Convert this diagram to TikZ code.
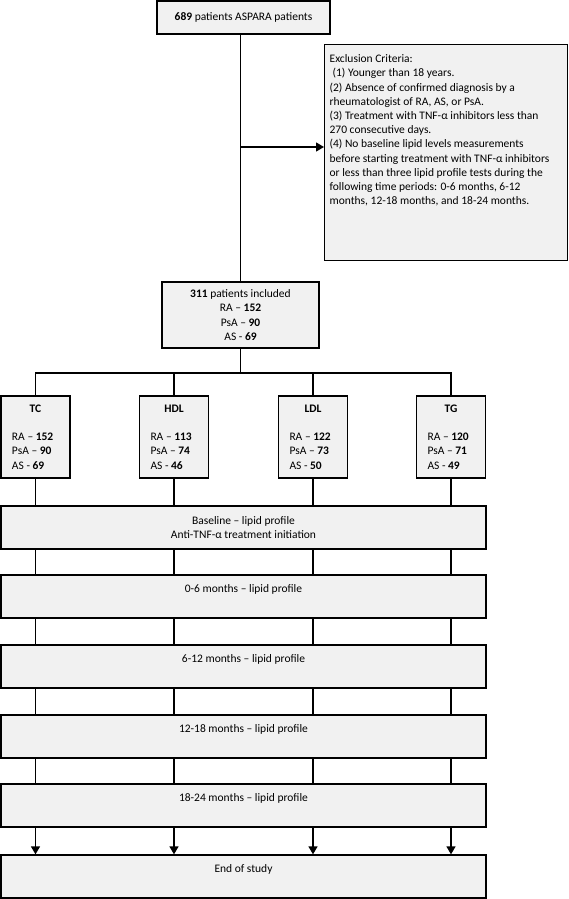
\documentclass[tikz,border=0pt]{standalone}
\usepackage{fontspec}
\setmainfont{Carlito}
\usetikzlibrary{arrows.meta}
\definecolor{boxgrey}{RGB}{241,241,241}

\begin{document}
\begin{tikzpicture}[x=1pt,y=-1pt,
  every node/.style={font=\fontsize{11.5}{14.2}\selectfont},
  box/.style={draw, line width=1.3pt, fill=boxgrey, inner sep=0pt},
  grp/.style={box, minimum width=69pt, minimum height=82pt, text width=47pt, align=flush left},
  stage/.style={box, minimum width=485pt, text height=13pt, text depth=22pt, inner ysep=4pt},
  link/.style={line width=1.3pt},
  tip/.style={link, -{Triangle[width=9pt,length=8pt]}}]
\useasboundingbox (0,0) rectangle (568,899);

% top part
\node[box, minimum width=173pt, minimum height=33pt] (total) at (243.5,17.5) {\textbf{689} patients ASPARA patients};
\node[box, anchor=north west, inner xsep=5pt, inner ysep=10pt] (excl) at (324,44) {\parbox[c][196pt][t]{233pt}{\raggedright
Exclusion Criteria:\\
\hspace*{3pt}(1) Younger than 18 years.\\
(2) Absence of confirmed diagnosis by a\\
rheumatologist of RA, AS, or PsA.\\
(3) Treatment with TNF-α inhibitors less than\\
270 consecutive days.\\
(4) No baseline lipid levels measurements\\
before starting treatment with TNF-α inhibitors\\
or less than three lipid profile tests during the\\
following time periods: 0-6 months, 6-12\\
months, 12-18 months, and 18-24 months.}};
\node[box, minimum width=157pt, minimum height=66pt, align=center] (incl) at (240.5,315) {\textbf{311} patients included\\RA – \textbf{152}\\PsA – \textbf{90}\\AS - \textbf{69}};

\draw[link] (incl.north |- total.south) -- (incl.north);
\coordinate (split) at (incl.north |- 0,147);
\draw[tip] (split) -- (split -| excl.west);

% lipid groups
\node[grp] (tc) at (35.5,437) {\centerline{\textbf{TC}}\vskip14.2pt RA – \textbf{152}\\PsA – \textbf{90}\\AS - \textbf{69}};
\node[grp] (hdl) at (174,437) {\centerline{\textbf{HDL}}\vskip14.2pt RA – \textbf{113}\\PsA – \textbf{74}\\AS - \textbf{46}};
\node[grp] (ldl) at (313,437) {\centerline{\textbf{LDL}}\vskip14.2pt RA – \textbf{122}\\PsA – \textbf{73}\\AS - \textbf{50}};
\node[grp] (tg) at (451,437) {\centerline{\textbf{TG}}\vskip14.2pt RA – \textbf{120}\\PsA – \textbf{71}\\AS - \textbf{49}};

\coordinate (fork) at (incl.south |- 0,373);
\draw[link] (incl.south) -- (fork);
\draw[link] (tc.north) |- (fork) -| (tg.north);
\draw[link] (hdl.north) -- (hdl.north |- fork);
\draw[link] (ldl.north) -- (ldl.north |- fork);

% follow-up
\node[box, minimum width=485pt, minimum height=43pt, align=center] (base) at (243.5,527.5) {Baseline – lipid profile\\Anti-TNF-α treatment initiation};
\node[stage] (m6) at (243.5,596.5) {0-6 months – lipid profile};
\node[stage] (m12) at (243.5,666.5) {6-12 months – lipid profile};
\node[stage] (m18) at (243.5,736.5) {12-18 months – lipid profile};
\node[stage] (m24) at (243.5,805.5) {18-24 months – lipid profile};
\node[stage] (stop) at (243.5,876.5) {End of study};

\foreach \g in {tc,hdl,ldl,tg} {
  \draw[link] (\g.south) -- (\g.south |- base.north);
  \foreach \a/\b in {base/m6,m6/m12,m12/m18,m18/m24}
    \draw[link] (\g.south |- \a.south) -- (\g.south |- \b.north);
  \draw[tip] (\g.south |- m24.south) -- (\g.south |- stop.north);
}

\end{tikzpicture}
\end{document}
